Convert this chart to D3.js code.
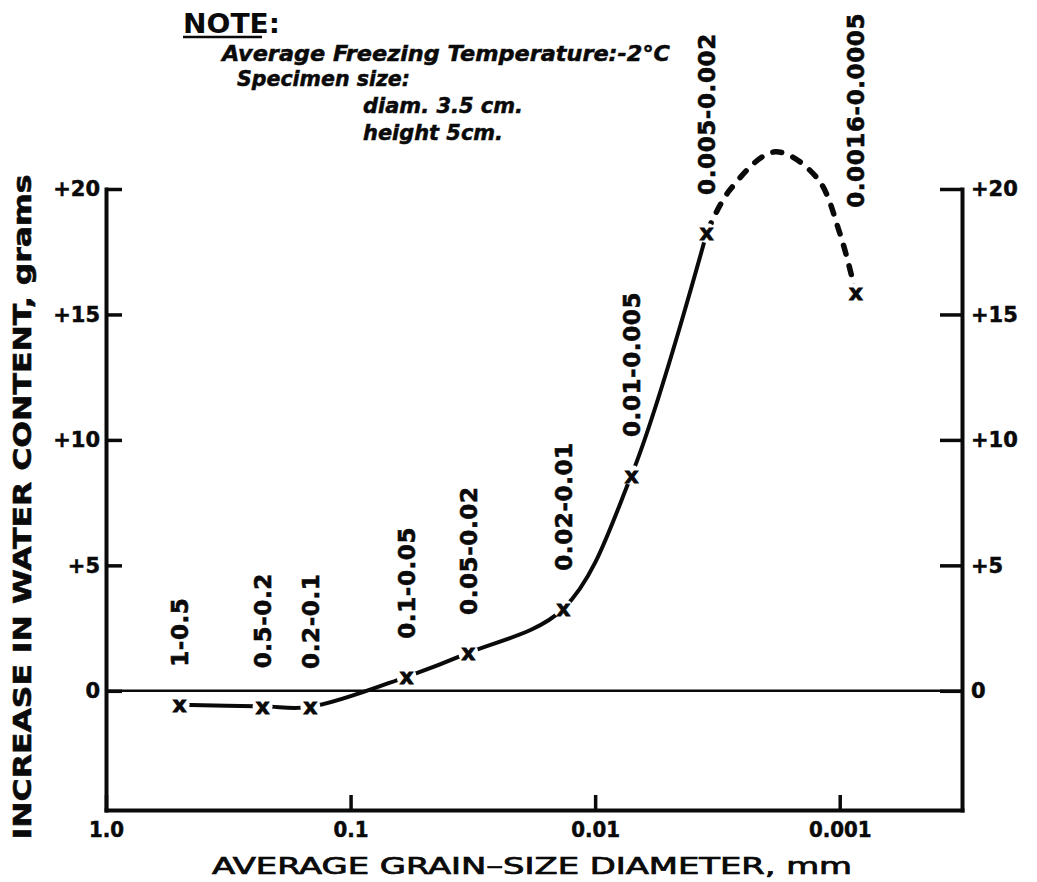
<!DOCTYPE html>
<html>
<head>
<meta charset="utf-8">
<script src="https://cdn.jsdelivr.net/npm/d3@7"></script>
<style>
body { margin: 0; background: #fff; }
svg { display: block; background: #fff; }
</style>
</head>
<body>
<svg width="1037" height="882"></svg>
<script>
// grain size fractions (mm), plotted position and water gain (grams)
var grainRanges = ["1-0.5", "0.5-0.2", "0.2-0.1", "0.1-0.05", "0.05-0.02",
                   "0.02-0.01", "0.01-0.005", "0.005-0.002", "0.0016-0.0005"];
var grainSize = [0.50, 0.229, 0.146, 0.059, 0.033, 0.0135, 0.0071, 0.0035, 0.00086];
var waterIncrease = [-0.56, -0.62, -0.64, 0.56, 1.51, 3.27, 8.6, 18.25, 15.86];

// dashed (estimated) part of the curve past 0.005-0.002
var peakSize = [0.0035, 0.00281, 0.00184, 0.00124, 0.001, 0.00086];
var peakIncrease = [18.25, 19.97, 21.48, 20.45, 18.25, 15.86];

var xTicks = [1, 0.1, 0.01, 0.001];
var xTickLabels = ["1.0", "0.1", "0.01", "0.001"];
var yTicks = [0, 5, 10, 15, 20];

var noteTitle = "NOTE:";
var noteLines = ["Average Freezing Temperature:-2\u00B0C", "Specimen size:", "diam. 3.5 cm.", "height 5cm."];

var svg = d3.select("svg"),
    font = "'DejaVu Sans', sans-serif",
    ink = "#0a0a0a";

var x = d3.scaleLog().domain([1, Math.pow(10, -3.5)]).range([106, 962]),
    y = d3.scaleLinear().domain([-4.75, 20]).range([810, 189]);

var yFormat = function(d) { return d === 0 ? "0" : "+" + d; };

function styleAxis(g) {
  g.select(".domain").attr("stroke", ink).attr("stroke-width", 4).attr("stroke-linecap", "square");
  g.selectAll(".tick line").attr("stroke", ink).attr("stroke-width", 3.5);
  g.selectAll(".tick text")
      .attr("fill", ink)
      .attr("stroke", ink)
      .attr("stroke-width", 0.5)
      .style("font-family", font)
      .style("font-weight", "bold")
      .style("font-size", "21px");
}

// zero line
svg.append("line")
    .attr("x1", x.range()[0]).attr("x2", x.range()[1])
    .attr("y1", y(0)).attr("y2", y(0))
    .attr("stroke", ink)
    .attr("stroke-width", 2.5);

svg.append("g")
    .attr("transform", "translate(" + x.range()[0] + ",0)")
    .call(d3.axisLeft(y).tickValues(yTicks).tickSize(-16).tickSizeOuter(0).tickPadding(6).tickFormat(yFormat))
    .call(styleAxis);

svg.append("g")
    .attr("transform", "translate(" + x.range()[1] + ",0)")
    .call(d3.axisRight(y).tickValues(yTicks).tickSize(-22).tickSizeOuter(0).tickPadding(9).tickFormat(yFormat))
    .call(styleAxis);

svg.append("g")
    .attr("transform", "translate(0," + y.range()[0] + ")")
    .call(d3.axisBottom(x).tickValues(xTicks).tickSize(-15).tickSizeOuter(0).tickPadding(11)
      .tickFormat(function(d, i) { return xTickLabels[i]; }))
    .call(styleAxis)
    .selectAll(".tick text")
      .style("font-family", "'DejaVu Sans Condensed', 'DejaVu Sans', sans-serif")
      .style("font-size", "22px");

// curve
var line = d3.line()
    .x(function(d) { return x(d[0]); })
    .y(function(d) { return y(d[1]); })
    .curve(d3.curveCatmullRom.alpha(0.5));

var solid = grainSize.slice(0, 8).map(function(d, i) { return [d, waterIncrease[i]]; });
var dashed = peakSize.map(function(d, i) { return [d, peakIncrease[i]]; });

svg.append("path")
    .attr("d", line(solid))
    .attr("fill", "none")
    .attr("stroke", ink)
    .attr("stroke-width", 4);

svg.append("path")
    .attr("d", line(dashed))
    .attr("fill", "none")
    .attr("stroke", ink)
    .attr("stroke-width", 5.5)
    .attr("stroke-linecap", "round")
    .attr("stroke-dasharray", "9,12")
    .attr("stroke-dashoffset", -2);

// markers with a small white gap around them
var pts = svg.selectAll(".pt")
    .data(grainSize)
    .enter().append("g")
      .attr("class", "pt")
      .attr("transform", function(d, i) { return "translate(" + x(d) + "," + y(waterIncrease[i]) + ")"; });

pts.append("circle").attr("r", 10).attr("fill", "#fff");
pts.append("text")
    .attr("text-anchor", "middle")
    .attr("dy", "0.34em")
    .attr("fill", ink)
    .attr("stroke", ink)
    .attr("stroke-width", 0.8)
    .style("font-family", font)
    .style("font-weight", "bold")
    .style("font-size", "22px")
    .text("x");

// rotated size range labels
var peakTop = d3.max(peakIncrease);
svg.selectAll(".range")
    .data(grainRanges)
    .enter().append("text")
      .attr("class", "range")
      .attr("transform", function(d, i) {
        var ly = i === grainRanges.length - 1 ? y(peakTop) + 56 : y(waterIncrease[i]) - 38;
        return "translate(" + x(grainSize[i]) + "," + ly + ") rotate(-90)";
      })
      .attr("dy", "0.36em")
      .attr("fill", ink)
      .attr("stroke", ink)
      .attr("stroke-width", 0.6)
      .style("font-family", font)
      .style("font-weight", "bold")
      .style("font-size", "23px")
      .style("letter-spacing", "0.6px")
      .text(function(d) { return d; });

// axis titles
svg.append("text")
    .attr("transform", "translate(22,507) rotate(-90)")
    .attr("text-anchor", "middle")
    .attr("dy", "0.36em")
    .attr("textLength", 665)
    .attr("lengthAdjust", "spacingAndGlyphs")
    .attr("fill", ink)
    .attr("stroke", ink)
    .attr("stroke-width", 0.6)
    .style("font-family", font)
    .style("font-weight", "bold")
    .style("font-size", "25px")
    .text("INCREASE IN WATER CONTENT, grams");

svg.append("text")
    .attr("x", 532)
    .attr("y", 874)
    .attr("text-anchor", "middle")
    .attr("textLength", 640)
    .attr("lengthAdjust", "spacingAndGlyphs")
    .attr("fill", ink)
    .attr("stroke", ink)
    .attr("stroke-width", 0.7)
    .style("font-family", "'DejaVu Sans Condensed', 'DejaVu Sans', sans-serif")
    .style("font-size", "23px")
    .text("AVERAGE GRAIN\u2013SIZE DIAMETER, mm");

// note block
svg.append("text")
    .attr("x", 183)
    .attr("y", 33)
    .attr("textLength", 97)
    .attr("lengthAdjust", "spacingAndGlyphs")
    .attr("fill", ink)
    .style("font-family", font)
    .style("font-weight", "bold")
    .style("font-size", "26px")
    .text(noteTitle);

svg.append("line")
    .attr("x1", 183).attr("x2", 262)
    .attr("y1", 37).attr("y2", 37)
    .attr("stroke", ink)
    .attr("stroke-width", 2.5);

var noteX = [222, 237, 363, 363],
    noteY = [61, 86, 113, 140],
    noteW = [448, 173, 160, 140];

svg.selectAll(".note")
    .data(noteLines)
    .enter().append("text")
      .attr("class", "note")
      .attr("x", function(d, i) { return noteX[i]; })
      .attr("y", function(d, i) { return noteY[i]; })
      .attr("textLength", function(d, i) { return noteW[i]; })
      .attr("lengthAdjust", "spacingAndGlyphs")
      .attr("fill", ink)
      .attr("stroke", ink)
      .attr("stroke-width", 0.5)
      .style("font-family", font)
      .style("font-weight", "bold")
      .style("font-style", "italic")
      .style("font-size", "21px")
      .text(function(d) { return d; });
</script>
</body>
</html>
